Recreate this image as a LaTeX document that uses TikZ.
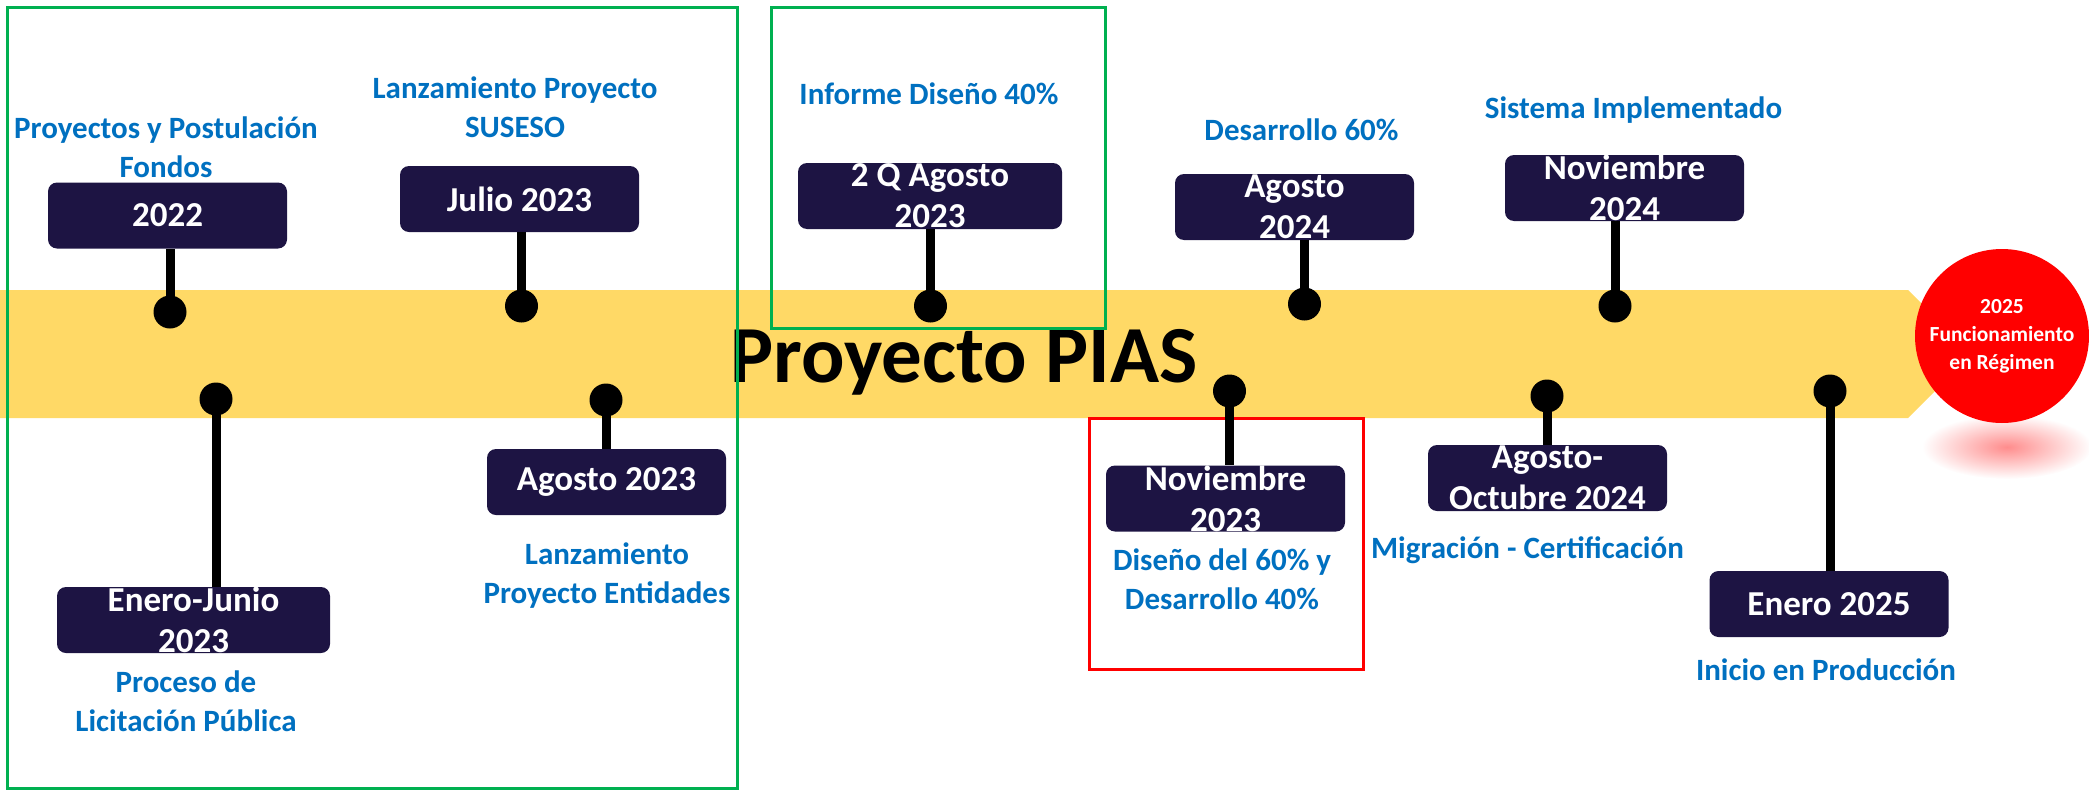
\documentclass[tikz,border=0pt]{standalone}
\usepackage{fontspec}
\setmainfont{Carlito}
\definecolor{pias_navy}{RGB}{29, 20, 67}
\definecolor{pias_blue}{RGB}{0, 112, 192}
\definecolor{pias_gold}{RGB}{255, 217, 102}
\definecolor{pias_green}{RGB}{0, 176, 80}
\usetikzlibrary{positioning, calc}

\begin{document}
\begin{tikzpicture}[x=1pt, y=-1pt,
    fecha/.style={fill=pias_navy, rounded corners=9pt, minimum height=66pt,
      inner sep=0pt, text=white, align=center, font=\fontsize{35}{41}\selectfont\bfseries},
    hito/.style={circle, fill=black, minimum size=33pt, inner sep=0pt},
    nota/.style={text=pias_blue, align=center, inner sep=0pt, anchor=base,
      font=\fontsize{31}{39}\selectfont\bfseries},
    tallo/.style={line width=9pt}]
  \useasboundingbox (0,0) rectangle (2089,790);
  \fill[pias_gold] (0,290) -- (1908,290) -- (1972,354) -- (1908,418) -- (0,418) -- cycle;
  \node[font=\fontsize{81}{90}\selectfont\bfseries, anchor=base, inner sep=0pt] (titulo) at (964,382) {Proyecto PIAS};
  \draw[pias_green, line width=3pt] (7,7) rectangle (737,788);
  \draw[pias_green, line width=3pt] (771,7) rectangle (1105,328);
  \draw[red, line width=3pt] (1089,418) rectangle (1363,669);
  \shade[inner color=red!45, outer color=white] (2007,447) ellipse [x radius=85pt, y radius=32pt];
  \node[circle, fill=red, minimum size=174pt, inner sep=0pt, text=white, align=center,
    font=\fontsize{21.5}{28}\selectfont\bfseries] (meta) at (2002,336) {2025\\Funcionamiento\\en Régimen};
  \foreach \n/\bx/\by/\bw/\dx/\dy/\lado/\fecha/\lx/\ly/\nota in {
      a/167.5/215.5/239/170/312/south/{2022}/166/177/{Proyectos y Postulación\\Fondos},
      b/519.5/199/239/521.5/306/south/{Julio 2023}/515/137/{Lanzamiento Proyecto\\SUSESO},
      c/930/196/264/930.5/306/south/{2 Q Agosto\\2023}/929/104/{Informe Diseño 40\%},
      d/1294.5/207/239/1304.5/304/south/{Agosto\\2024}/1301.5/140/{Desarrollo 60\%},
      e/1624.5/188/239/1615/306/south/{Noviembre\\2024}/1633.5/118/{Sistema Implementado},
      f/193.5/620/273/216/399/north/{Enero-Junio\\2023}/186/731/{Proceso de\\Licitación Pública},
      g/606.5/482/239/606/400/north/{Agosto 2023}/607/603/{Lanzamiento\\Proyecto Entidades},
      h/1225.5/498.5/239/1229.5/391/north/{Noviembre\\2023}/1222/609/{Diseño del 60\% y\\Desarrollo 40\%},
      i/1547.5/478/239/1547/396/north/{Agosto-\\Octubre 2024}/1527.5/558/{Migración - Certificación},
      j/1829/604/239/1830/391/north/{Enero 2025}/1826/680/{Inicio en Producción}} {
    \node[fecha, minimum width=\bw pt] (fecha_\n) at (\bx,\by) {\fecha};
    \node[hito] (hito_\n) at (\dx,\dy) {};
    \draw[tallo] (hito_\n.center) -- (hito_\n.center |- fecha_\n.\lado);
    \node[nota] (nota_\n) at (\lx,\ly) {\nota};
  }
\end{tikzpicture}
\end{document}
